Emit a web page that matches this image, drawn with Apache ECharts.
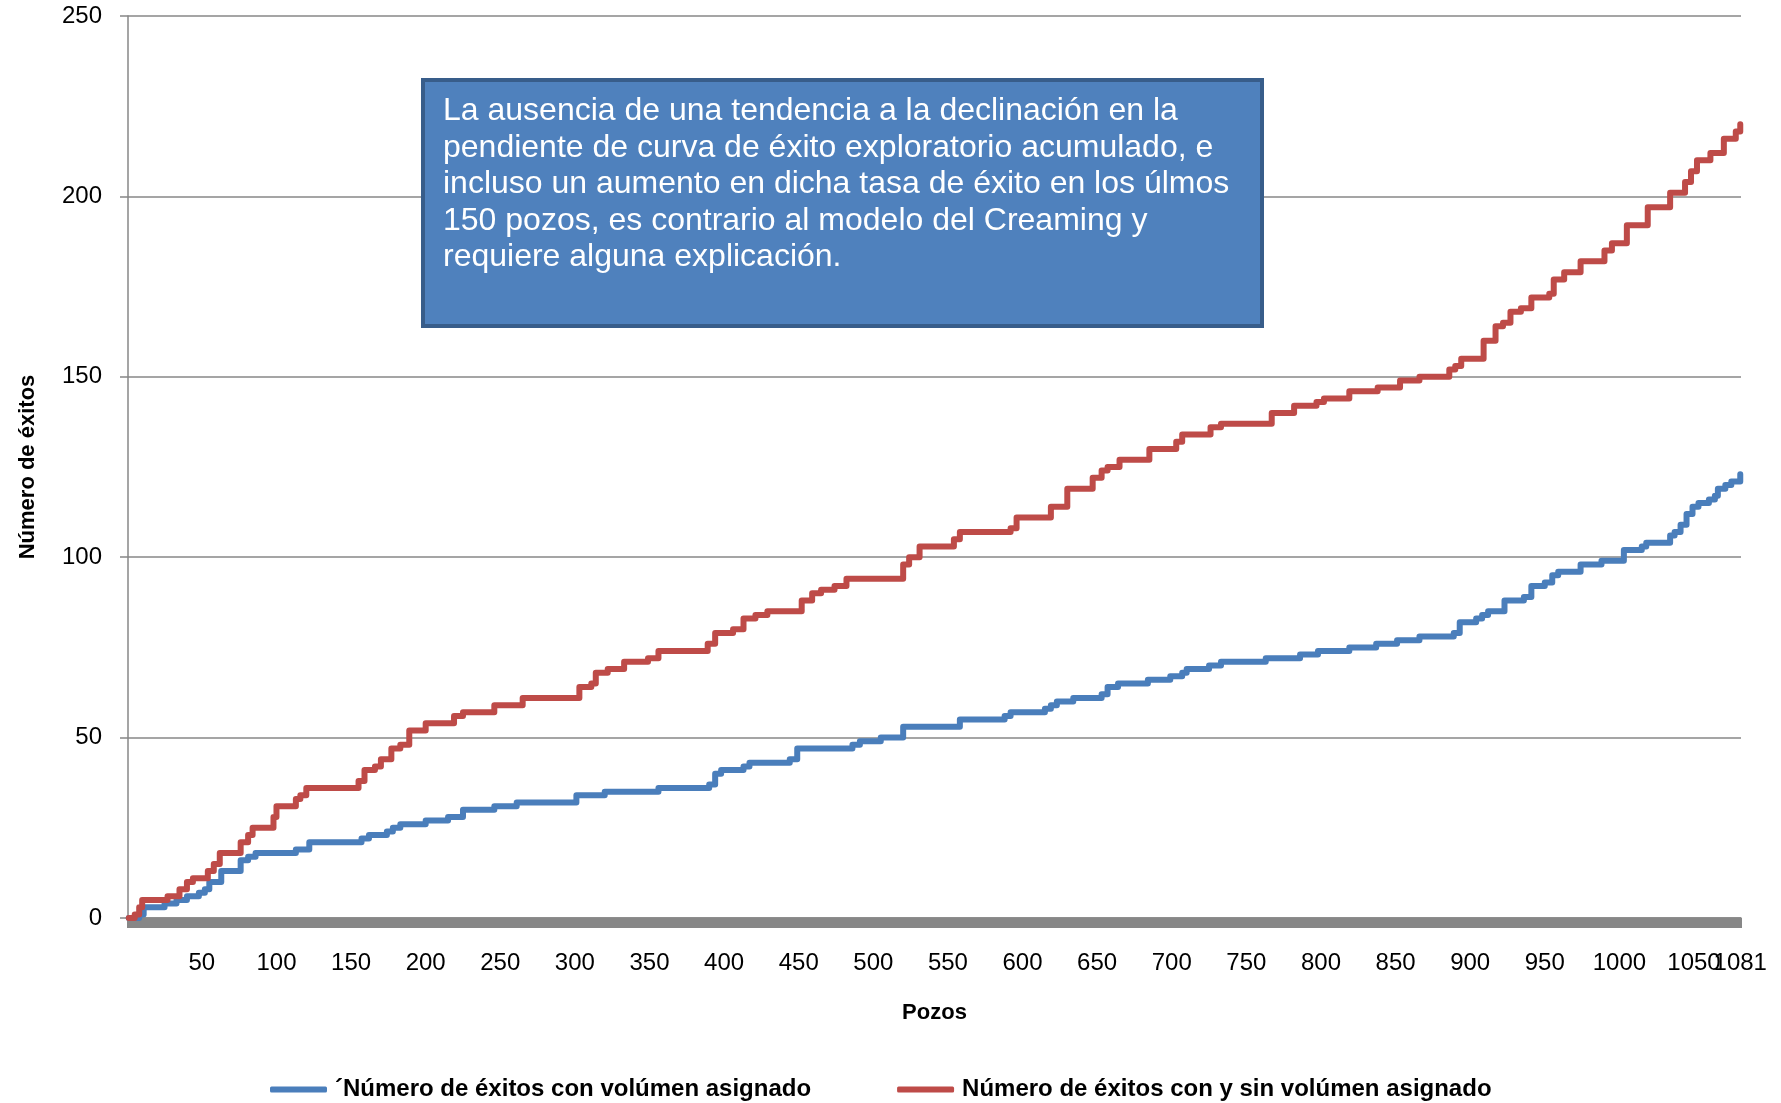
<!DOCTYPE html>
<html>
<head>
<meta charset="utf-8">
<title>Número de éxitos</title>
<script src="https://cdn.jsdelivr.net/npm/echarts@6/dist/echarts.min.js"></script>
<style>
  html, body { margin: 0; padding: 0; background: #fff; }
  #grafico { width: 1781px; height: 1103px; }
</style>
</head>
<body>
<div id="grafico"></div>
<script>
// etiquetas del eje x (pozos); la última va en un eje aparte porque se solapa con 1050
var etiquetasX = [50, 100, 150, 200, 250, 300, 350, 400, 450, 500, 550, 600, 650, 700,
    750, 800, 850, 900, 950, 1000, 1050];
var etiquetaFinal = [1081];
var totalPozos = 1081;

// Número de éxitos con y sin volúmen asignado (pozo donde cambia, valor acumulado)
var pozosRojo = [1, 5, 8, 10, 27, 35, 40, 44, 54, 58, 62, 76, 81, 84, 98, 100, 113, 116, 120,
    155, 159, 166, 170, 177, 183, 189, 200, 219, 225, 246, 265, 303, 311, 314, 322, 333, 349,
    356, 389, 394, 406, 413, 421, 429, 452, 459, 465, 474, 482, 520, 524, 531, 554, 558, 592,
    596, 619, 630, 647, 653, 657, 665, 685, 703, 707, 726, 733, 767, 782, 797, 802, 819, 838,
    853, 866, 886, 890, 894, 909, 917, 922, 927, 934, 941, 953, 956, 963, 974, 990, 995, 1005,
    1019, 1034, 1044, 1048, 1052, 1061, 1070, 1078, 1081];
var exitosRojo = [0, 1, 3, 5, 6, 8, 10, 11, 13, 15, 18, 21, 23, 25, 28, 31, 33, 34, 36,
    38, 41, 42, 44, 47, 48, 52, 54, 56, 57, 59, 61, 64, 65, 68, 69, 71, 72,
    74, 76, 79, 80, 83, 84, 85, 88, 90, 91, 92, 94, 98, 100, 103, 105, 107, 108,
    111, 114, 119, 122, 124, 125, 127, 130, 132, 134, 136, 137, 140, 142, 143, 144, 146, 147,
    149, 150, 152, 153, 155, 160, 164, 165, 168, 169, 172, 173, 177, 179, 182, 185, 187, 192,
    197, 201, 204, 207, 210, 212, 216, 218, 220];

// ´Número de éxitos con volúmen asignado
var pozosAzul = [1, 8, 11, 25, 33, 40, 48, 52, 55, 63, 76, 81, 86, 113, 122, 157, 162, 174,
    178, 183, 200, 215, 225, 246, 261, 301, 320, 356, 390, 394, 398, 413, 417, 444, 449, 486,
    491, 505, 520, 558, 588, 592, 615, 619, 623, 634, 653, 657, 664, 684, 699, 707, 710, 725,
    733, 763, 786, 798, 819, 837, 851, 866, 889, 893, 904, 908, 912, 923, 936, 941, 950, 955,
    959, 974, 988, 1003, 1015, 1018, 1034, 1037, 1041, 1045, 1049, 1053, 1060, 1064, 1066,
    1071, 1075, 1081];
var exitosAzul = [0, 1, 3, 4, 5, 6, 7, 8, 10, 13, 16, 17, 18, 19, 21, 22, 23, 24,
    25, 26, 27, 28, 30, 31, 32, 34, 35, 36, 37, 40, 41, 42, 43, 44, 47, 48,
    49, 50, 53, 55, 56, 57, 58, 59, 60, 61, 62, 64, 65, 66, 67, 68, 69, 70,
    71, 72, 73, 74, 75, 76, 77, 78, 79, 82, 83, 84, 85, 88, 89, 92, 93, 95,
    96, 98, 99, 102, 103, 104, 106, 107, 109, 112, 114, 115, 116, 117, 119,
    120, 121, 123];

var nombreAzul = '´Número de éxitos con volúmen asignado';
var nombreRojo = 'Número de éxitos con y sin volúmen asignado';

var textoNota = 'La ausencia de una tendencia a la declinación en la\n' +
    'pendiente de curva de éxito exploratorio acumulado, e\n' +
    'incluso un aumento en dicha tasa de éxito en los úlmos\n' +
    '150 pozos, es contrario al modelo del Creaming y\n' +
    'requiere alguna explicación.';

function pares(xs, ys) {
    return xs.map(function (x, i) { return [x, ys[i]]; });
}

// marcas del eje x, una por pozo (banda gris)
var marcasX = [];
for (var k = 0; k <= totalPozos; k++) { marcasX.push(k + 0.5); }

var fuente = 'Liberation Sans';
var gris = '#878787';

var etiquetaEstilo = {
    showMinLabel: true,
    showMaxLabel: true,
    hideOverlap: false,
    margin: 33,
    fontFamily: fuente,
    fontSize: 24,
    color: '#000',
    formatter: function (v) { return String(v); }
};

var option = {
    animation: false,
    backgroundColor: '#fff',
    grid: {
        left: 128,
        right: 40,
        top: 16,
        bottom: 185
    },
    legend: {
        left: 265,
        top: 1071,
        itemWidth: 57,
        itemHeight: 6,
        itemGap: 86,
        icon: 'roundRect',
        textStyle: {
            fontFamily: fuente,
            fontSize: 24,
            fontWeight: 'bold',
            color: '#000',
            lineHeight: 27,
            padding: [0, 0, 0, 3]
        },
        data: [nombreAzul, nombreRojo]
    },
    xAxis: [
        {
            type: 'value',
            min: 0.5,
            max: totalPozos + 0.5,
            name: 'Pozos',
            nameLocation: 'middle',
            nameGap: 84,
            nameTextStyle: {
                fontFamily: fuente,
                fontSize: 22,
                fontWeight: 'bold',
                color: '#000'
            },
            axisLine: {
                show: true,
                onZero: false,
                lineStyle: { color: gris, width: 1.5 }
            },
            axisTick: {
                show: true,
                length: 10,
                customValues: marcasX,
                lineStyle: { color: gris, width: 2 }
            },
            axisLabel: Object.assign({ customValues: etiquetasX }, etiquetaEstilo),
            splitLine: { show: false }
        },
        {
            // solo la etiqueta 1081
            type: 'value',
            position: 'bottom',
            min: 0.5,
            max: totalPozos + 0.5,
            axisLine: { show: false, onZero: false },
            axisTick: { show: false },
            axisLabel: Object.assign({ customValues: etiquetaFinal }, etiquetaEstilo),
            splitLine: { show: false }
        }
    ],
    yAxis: {
        type: 'value',
        min: 0,
        max: 250,
        interval: 50,
        name: 'Número de éxitos',
        nameLocation: 'middle',
        nameGap: 89,
        nameTextStyle: {
            fontFamily: fuente,
            fontSize: 22,
            fontWeight: 'bold',
            color: '#000'
        },
        axisLine: {
            show: true,
            lineStyle: { color: gris, width: 1.5 }
        },
        axisTick: {
            show: true,
            length: 8,
            lineStyle: { color: gris, width: 1.5 }
        },
        axisLabel: {
            margin: 26,
            fontFamily: fuente,
            fontSize: 24,
            color: '#000'
        },
        splitLine: {
            show: true,
            lineStyle: { color: gris, width: 1.5 }
        }
    },
    series: [
        {
            name: nombreAzul,
            type: 'line',
            step: 'end',
            showSymbol: false,
            symbol: 'none',
            data: pares(pozosAzul, exitosAzul),
            itemStyle: { color: '#4A7EBB' },
            lineStyle: { color: '#4A7EBB', width: 6, cap: 'round', join: 'round' },
            z: 3
        },
        {
            name: nombreRojo,
            type: 'line',
            step: 'end',
            showSymbol: false,
            symbol: 'none',
            data: pares(pozosRojo, exitosRojo),
            itemStyle: { color: '#BE4B48' },
            lineStyle: { color: '#BE4B48', width: 6, cap: 'round', join: 'round' },
            z: 4
        }
    ],
    graphic: [
        {
            type: 'rect',
            left: 421,
            top: 78,
            z: 100,
            shape: { width: 839, height: 246 },
            style: { fill: '#4F81BD', stroke: '#385D8A', lineWidth: 4 }
        },
        {
            type: 'text',
            left: 443,
            top: 93,
            z: 101,
            style: {
                text: textoNota,
                fill: '#fff',
                font: '32px "Liberation Sans"',
                lineHeight: 36.5
            }
        }
    ]
};

var myChart = echarts.init(document.getElementById('grafico'));
myChart.setOption(option);
</script>
</body>
</html>
